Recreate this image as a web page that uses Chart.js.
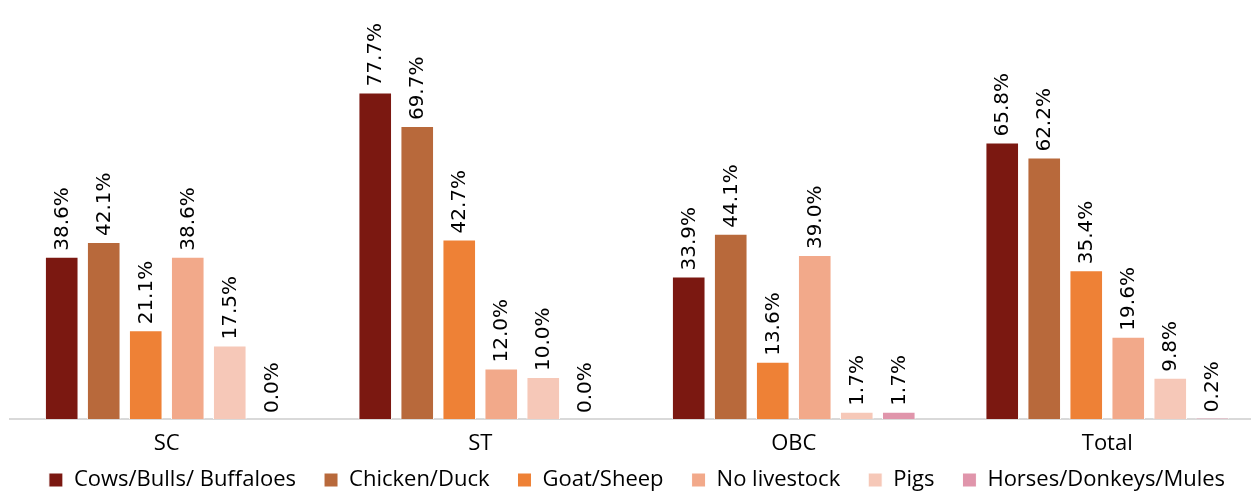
<!DOCTYPE html>
<html>
<head>
<meta charset="utf-8">
<script src="https://cdn.jsdelivr.net/npm/chart.js@4/dist/chart.umd.min.js"></script>
<style>
  html, body { margin: 0; padding: 0; background: #fff; overflow: hidden; }
  #wrap { width: 1251px; height: 491px; overflow: hidden; }
</style>
</head>
<body>
<div id="wrap"><canvas id="chart" width="1264" height="501"></canvas></div>
<script>
const groups = ["SC", "ST", "OBC", "Total"];

const cows     = [38.6, 77.7, 33.9, 65.8];
const chicken  = [42.1, 69.7, 44.1, 62.2];
const goat     = [21.1, 42.7, 13.6, 35.4];
const none     = [38.6, 12.0, 39.0, 19.6];
const pigs     = [17.5, 10.0, 1.7, 9.8];
const horses   = [0.0, 0.0, 1.7, 0.2];

const seriesNames = ["Cows/Bulls/ Buffaloes", "Chicken/Duck", "Goat/Sheep", "No livestock", "Pigs", "Horses/Donkeys/Mules"];
const seriesData = [cows, chicken, goat, none, pigs, horses];
const colors = ["#7b1811", "#b8693b", "#ee8136", "#f2a98a", "#f6c8b8", "#e095ab"];

const uiFont = "'Open Sans', sans-serif";

// rotated percentage labels above each bar
const barLabels = {
    id: "barLabels",
    afterDatasetsDraw(chart) {
        const ctx = chart.ctx;
        ctx.save();
        ctx.font = "20px 'DejaVu Sans', sans-serif";
        ctx.fillStyle = "#000";
        ctx.textAlign = "left";
        ctx.textBaseline = "middle";
        chart.data.datasets.forEach((ds, i) => {
            chart.getDatasetMeta(i).data.forEach((bar, j) => {
                ctx.save();
                ctx.translate(bar.x + 1, bar.y - 6);
                ctx.rotate(-Math.PI / 2);
                ctx.fillText(ds.data[j].toFixed(1) + "%", 0, 0);
                ctx.restore();
            });
        });
        ctx.restore();
    }
};

// the x band is squeezed in afterFit; let its labels draw past the band
const unclipTicks = {
    id: "unclipTicks",
    afterLayout(chart) {
        chart.scales.x.bottom = chart.height;
    }
};

new Chart(document.getElementById("chart"), {
    type: "bar",
    data: {
        labels: groups,
        datasets: seriesNames.map((name, i) => ({
            label: name,
            data: seriesData[i],
            backgroundColor: colors[i],
            borderColor: "#fff",
            borderWidth: 1,
            categoryPercentage: 0.804,
            barPercentage: 0.8
        }))
    },
    options: {
        responsive: false,
        animation: false,
        layout: { padding: { left: 10, right: 0, top: 0, bottom: 0 } },
        scales: {
            x: {
                grid: { display: false, drawTicks: false },
                border: { color: "#d9d9d9", width: 2 },
                ticks: {
                    color: "#000",
                    font: { family: uiFont, size: 22, lineHeight: 0.1 },
                    padding: 24
                },
                afterFit(scale) { scale.height = 22; }
            },
            y: { display: false, min: 0, max: 99.7 }
        },
        plugins: {
            legend: {
                position: "bottom",
                labels: {
                    color: "#000",
                    font: { family: uiFont, size: 22 },
                    boxWidth: 14,
                    boxHeight: 14,
                    padding: 28
                }
            },
            tooltip: { enabled: false }
        }
    },
    plugins: [barLabels, unclipTicks]
});
</script>
</body>
</html>
